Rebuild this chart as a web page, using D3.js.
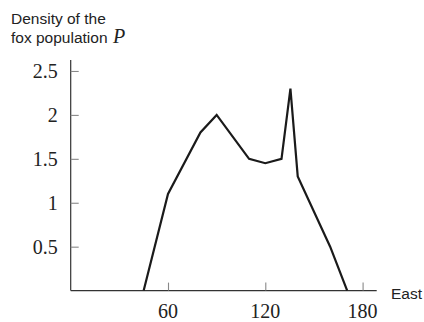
<!DOCTYPE html>
<html><head><meta charset="utf-8">
<script src="https://cdn.jsdelivr.net/npm/d3@7"></script>
<style>
html,body{margin:0;padding:0;background:#fff;}
svg{display:block;}
</style></head>
<body>
<svg id="chart" width="424" height="322"></svg>
<script>
const eastValues = [45, 60, 80, 90, 110, 120, 130, 135.5, 140, 160, 170.5];
const densityValues = [0, 1.1, 1.8, 2.0, 1.5, 1.45, 1.5, 2.3, 1.3, 0.5, 0];
const xTickValues = [60, 120, 180];
const yTickValues = [0.5, 1, 1.5, 2, 2.5];
const yTickLabels = ["0.5", "1", "1.5", "2", "2.5"];
const titleLines = ["Density of the", "fox population"];
const titleSymbol = "P";
const xAxisLabel = "East";

const svg = d3.select("#chart");
const x = d3.scaleLinear().domain([0, 188.7]).range([70.7, 376.7]);
const y = d3.scaleLinear().domain([0, 2.625]).range([290.6, 60]);

const axisColor = "#333";
const tickColor = "#888";
const serif = "'Liberation Serif', 'Times New Roman', serif";
const sans = "'Liberation Sans', Arial, sans-serif";

// Axis lines
svg.append("line").attr("x1", x(0)).attr("x2", x(0)).attr("y1", y(2.625)).attr("y2", y(0))
  .attr("stroke", axisColor).attr("stroke-width", 1.2);
svg.append("line").attr("x1", x(0)).attr("x2", x(188.7)).attr("y1", y(0)).attr("y2", y(0))
  .attr("stroke", axisColor).attr("stroke-width", 1.2);

// Y ticks via d3 axis
const yAxis = d3.axisRight(y).tickValues(yTickValues).tickSize(8).tickFormat("");
const gy = svg.append("g").attr("transform", `translate(${x(0)},0)`).call(yAxis);
gy.select(".domain").remove();
gy.selectAll(".tick line").attr("stroke", tickColor).attr("stroke-width", 1.1);

// Y tick labels
svg.append("g").selectAll("text").data(yTickValues).join("text")
  .attr("x", x(0) - 13).attr("y", d => y(d) + 7.5)
  .attr("text-anchor", "end")
  .attr("font-family", serif).attr("font-size", 20).attr("fill", "#222")
  .text((d, i) => yTickLabels[i]);

// X ticks via d3 axis
const xAxis = d3.axisTop(x).tickValues(xTickValues).tickSize(8).tickFormat("");
const gx = svg.append("g").attr("transform", `translate(0,${y(0)})`).call(xAxis);
gx.select(".domain").remove();
gx.selectAll(".tick line").attr("stroke", tickColor).attr("stroke-width", 1.1);

// X tick labels
svg.append("g").selectAll("text").data(xTickValues).join("text")
  .attr("x", d => x(d)).attr("y", y(0) + 27)
  .attr("text-anchor", "middle")
  .attr("font-family", serif).attr("font-size", 20).attr("fill", "#222")
  .text(d => d);

// Axis label
svg.append("text").attr("x", 391).attr("y", 298.5)
  .attr("font-family", sans).attr("font-size", 15.5).attr("fill", "#222")
  .text(xAxisLabel);

// Title
const title = svg.append("g");
title.append("text").attr("x", 11).attr("y", 24)
  .attr("font-family", sans).attr("font-size", 15.5).attr("fill", "#222")
  .text(titleLines[0]);
title.append("text").attr("x", 11).attr("y", 43.3)
  .attr("font-family", sans).attr("font-size", 15.5).attr("fill", "#222")
  .text(titleLines[1]);
title.append("text").attr("x", 113).attr("y", 43.3)
  .attr("font-family", serif).attr("font-style", "italic").attr("font-size", 20).attr("fill", "#222")
  .text(titleSymbol);

// Data line
const data = eastValues.map((e, i) => ({e, p: densityValues[i]}));
const line = d3.line().x(d => x(d.e)).y(d => y(d.p));
svg.append("path").datum(data).attr("d", line)
  .attr("fill", "none").attr("stroke", "#1a1a1a").attr("stroke-width", 2.2)
  .attr("stroke-linejoin", "miter").attr("stroke-miterlimit", 3);
</script>
</body></html>
